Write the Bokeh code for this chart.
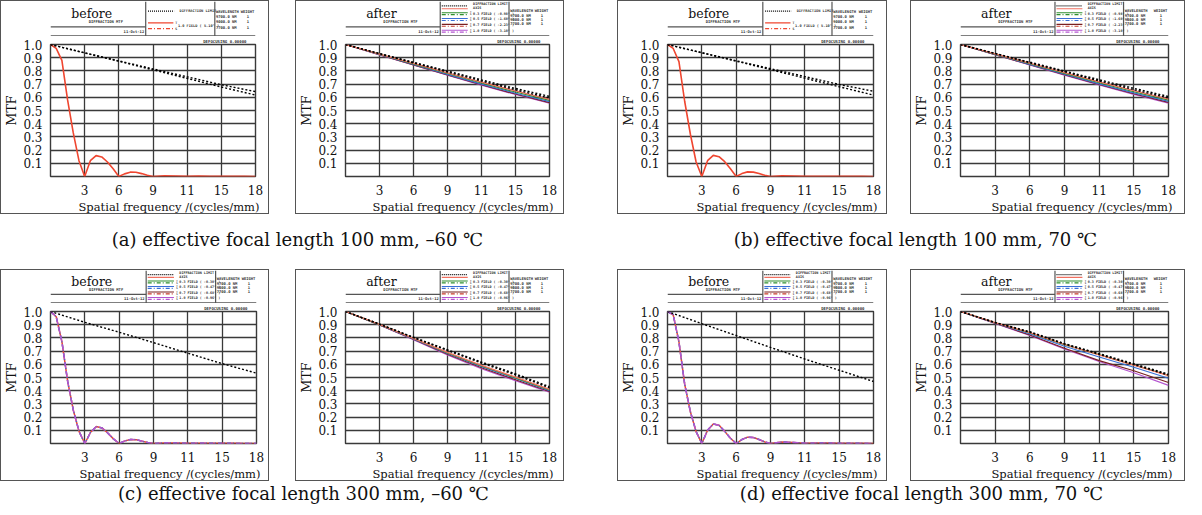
from bokeh.plotting import figure
from bokeh.models import Range1d, FixedTicker, PrintfTickFormatter, Spacer, Title
from bokeh.layouts import row, column
from bokeh.core.properties import value
from bokeh.embed import file_html
from bokeh.resources import INLINE

# ---------------- data ----------------
FREQ_FINE = [0, 0.5, 1, 1.5, 2, 2.5, 3, 3.5, 4, 4.5, 5, 5.5, 6, 6.5, 7, 7.5, 8, 8.5, 9,
             10, 11, 12, 13, 14, 15, 16, 17, 18]
FREQ = [0, 3, 6, 9, 12, 15, 18]
X_TICKS = [3, 6, 9, 12, 15, 18]
X_TICK_LABELS = ["3", "6", "9", "11", "15", "18"]
Y_TICKS = [0.1, 0.2, 0.3, 0.4, 0.5, 0.6, 0.7, 0.8, 0.9, 1.0]

# (a) EFL 100 mm, -60 C
A_BEFORE_DIFF_T = [1.0, 0.937, 0.876, 0.815, 0.755, 0.695, 0.643]
A_BEFORE_DIFF_S = [1.0, 0.936, 0.873, 0.808, 0.743, 0.678, 0.617]
A_BEFORE_MTF = [1.0, 0.97, 0.88, 0.58, 0.33, 0.12, 0.0, 0.12, 0.158, 0.148, 0.11, 0.058, 0.0,
                0.02, 0.033, 0.032, 0.022, 0.01, 0.0, 0.006, 0.004, 0.001, 0.003, 0.002,
                0.001, 0.002, 0.001, 0.0]
A_AFTER_DIFF_T = [1.0, 0.932, 0.865, 0.798, 0.732, 0.667, 0.607]
A_AFTER_DIFF_S = [1.0, 0.930, 0.861, 0.792, 0.724, 0.657, 0.594]
A_AFTER_AXIS = [1.0, 0.928, 0.857, 0.785, 0.715, 0.648, 0.585]
A_AFTER_F03 = [1.0, 0.926, 0.853, 0.780, 0.708, 0.640, 0.577]
A_AFTER_F05 = [1.0, 0.924, 0.849, 0.774, 0.700, 0.631, 0.567]
A_AFTER_F07 = [1.0, 0.922, 0.846, 0.770, 0.695, 0.625, 0.560]
A_AFTER_F10 = [1.0, 0.921, 0.845, 0.768, 0.692, 0.621, 0.555]

# (b) EFL 100 mm, 70 C
B_BEFORE_DIFF_T = [1.0, 0.938, 0.877, 0.817, 0.757, 0.697, 0.646]
B_BEFORE_DIFF_S = [1.0, 0.937, 0.874, 0.810, 0.745, 0.680, 0.617]
B_BEFORE_MTF = [1.0, 0.97, 0.87, 0.57, 0.32, 0.11, 0.0, 0.12, 0.16, 0.15, 0.112, 0.058, 0.0,
                0.022, 0.035, 0.033, 0.022, 0.009, 0.0, 0.005, 0.004, 0.001, 0.002, 0.002,
                0.001, 0.001, 0.001, 0.0]
B_AFTER_DIFF_T = [1.0, 0.933, 0.866, 0.799, 0.733, 0.668, 0.606]
B_AFTER_DIFF_S = [1.0, 0.931, 0.862, 0.793, 0.725, 0.658, 0.595]
B_AFTER_AXIS = [1.0, 0.929, 0.858, 0.787, 0.717, 0.650, 0.587]
B_AFTER_F03 = [1.0, 0.927, 0.854, 0.781, 0.710, 0.642, 0.579]
B_AFTER_F05 = [1.0, 0.925, 0.850, 0.775, 0.702, 0.633, 0.569]
B_AFTER_F07 = [1.0, 0.923, 0.847, 0.771, 0.697, 0.627, 0.562]
B_AFTER_F10 = [1.0, 0.922, 0.845, 0.768, 0.693, 0.622, 0.556]

# (c) EFL 300 mm, -60 C
C_BEFORE_DIFF = [1.0, 0.918, 0.843, 0.764, 0.684, 0.605, 0.533]
C_BEFORE_MTF = [1.0, 0.96, 0.77, 0.47, 0.25, 0.09, 0.0, 0.085, 0.128, 0.118, 0.08, 0.035, 0.0,
                0.02, 0.031, 0.029, 0.018, 0.007, 0.0, 0.004, 0.003, 0.001, 0.002, 0.001,
                0.001, 0.001, 0.0, 0.0]
C_AFTER_DIFF_T = [1.0, 0.905, 0.805, 0.710, 0.617, 0.528, 0.430]
C_AFTER_DIFF_S = [1.0, 0.904, 0.802, 0.705, 0.610, 0.520, 0.422]
C_AFTER_AXIS = [1.0, 0.902, 0.797, 0.690, 0.592, 0.503, 0.410]
C_AFTER_F03 = [1.0, 0.901, 0.795, 0.686, 0.587, 0.497, 0.405]
C_AFTER_F05 = [1.0, 0.900, 0.793, 0.682, 0.582, 0.492, 0.400]
C_AFTER_F07 = [1.0, 0.899, 0.790, 0.676, 0.574, 0.483, 0.394]
C_AFTER_F10 = [1.0, 0.898, 0.787, 0.670, 0.566, 0.476, 0.388]

# (d) EFL 300 mm, 70 C
D_BEFORE_DIFF = [1.0, 0.908, 0.818, 0.728, 0.640, 0.555, 0.470]
D_BEFORE_MTF = [1.0, 0.975, 0.77, 0.45, 0.24, 0.09, 0.0, 0.10, 0.148, 0.138, 0.092, 0.04, 0.0,
                0.03, 0.048, 0.045, 0.03, 0.012, 0.0, 0.011, 0.008, 0.002, 0.003, 0.003,
                0.001, 0.001, 0.001, 0.0]
D_AFTER_DIFF_T = [1.0, 0.917, 0.847, 0.757, 0.681, 0.604, 0.525]
D_AFTER_DIFF_S = [1.0, 0.916, 0.843, 0.753, 0.676, 0.598, 0.518]
D_AFTER_AXIS = [1.0, 0.915, 0.840, 0.750, 0.672, 0.594, 0.515]
D_AFTER_F03 = [1.0, 0.915, 0.838, 0.749, 0.673, 0.595, 0.517]
D_AFTER_F05 = [1.0, 0.913, 0.830, 0.737, 0.655, 0.578, 0.494]
D_AFTER_F07 = [1.0, 0.911, 0.822, 0.722, 0.628, 0.551, 0.462]
D_AFTER_F10 = [1.0, 0.909, 0.818, 0.716, 0.621, 0.536, 0.440]

CAPTIONS_TOP = ["(a) effective focal length 100 mm, \u201360 \u2103",
                "(b) effective focal length 100 mm, 70 \u2103"]
CAPTIONS_BOTTOM = ["(c) effective focal length 300 mm, \u201360 \u2103",
                   "(d) effective focal length 300 mm, 70 \u2103"]
SINGLE_FIELD = "1.0 FIELD ( 5.10\u00b0 )"
FIELDS_100 = ["0.3 FIELD ( -0.98\u00b0 )", "0.5 FIELD ( -1.60\u00b0 )",
              "0.7 FIELD ( -2.23\u00b0 )", "1.0 FIELD ( -3.10\u00b0 )"]
FIELDS_300 = ["0.3 FIELD ( -0.30\u00b0 )", "0.5 FIELD ( -0.47\u00b0 )",
              "0.7 FIELD ( -0.68\u00b0 )", "1.0 FIELD ( -0.96\u00b0 )"]
WAVELENGTHS = ["9700.0 NM", "9000.0 NM", "7700.0 NM"]
WEIGHTS = ["1", "1", "1"]

# ---------------- style ----------------
SERIF = "DejaVu Serif"
MONO = "DejaVu Sans Mono"
GRID = "#3a3a3a"
BORDER = "#555555"
C_RED = "#ef4630"
C_AXIS = "#f07060"
C_GREEN = "#2f8f2f"
C_BLUE = "#3a6fd6"
C_MAROON = "#7a2020"
C_RED2 = "#c83a2a"
C_PURPLE = "#b455d0"
DASHDOT = "4 2 1 2"
DOT = "2 2"
SMALLDOT = "1 1"


def tiny(p, x, y, s, align="left", size="4.2px"):
    p.text(x=[x], y=[y], text=[s], text_font=value(MONO), text_font_size=size,
           text_font_style="bold", text_color="#333333", text_align=align,
           text_baseline="middle")


def make_header(w, h, label, multi, fields):
    p = figure(width=w, height=h, x_range=Range1d(0, w), y_range=Range1d(h, 0),
               x_axis_type=None, y_axis_type=None, toolbar_location=None,
               output_backend="svg", min_border=0)
    p.outline_line_color = None
    p.background_fill_color = "white"
    s = h / 36.0
    p.segment(x0=[0, 124, 214, 0], y0=[h - 0.6, 0, 0, 26 * s],
              x1=[w, 124, 214, 124], y1=[h - 0.6, h, h, 26 * s],
              line_color=BORDER, line_width=1.2)
    p.text(x=[27], y=[12 * s], text=[label], text_font=value(SERIF), text_font_size="12.5px",
           text_color="#111111", text_baseline="middle")
    tiny(p, 72, 21 * s, "DIFFRACTION MTF", "center", "3.8px")
    tiny(p, 122, 31 * s, "11-Oct-12", "right", "3.8px")
    if not multi:
        p.line([127, 161], [10 * s, 10 * s], line_color="black", line_dash=SMALLDOT, line_width=1.2)
        p.line([127, 160], [22 * s, 22 * s], line_color=C_RED, line_width=1.2)
        p.line([127, 160], [28 * s, 28 * s], line_color=C_RED, line_dash=DASHDOT, line_width=1.2)
        tiny(p, 168, 10 * s, "DIFFRACTION LIMIT", size="3.6px")
        tiny(p, 162.5, 22 * s, "T", size="3.2px")
        tiny(p, 162.5, 28 * s, "S", size="3.2px")
        tiny(p, 166, 25 * s, fields[0], size="3.6px")
        ys = [10, 15, 20.5, 26.5]
    else:
        rows = [(4.5, "black", SMALLDOT), (7.5, C_AXIS, "solid"),
                (11.5, C_GREEN, "solid"), (13.5, C_GREEN, DASHDOT),
                (17.5, C_BLUE, "solid"), (19.5, C_BLUE, DASHDOT),
                (23.5, C_MAROON, "solid"), (25.5, C_RED2, DASHDOT),
                (29.5, C_PURPLE, "solid"), (31.5, C_PURPLE, DASHDOT)]
        for yy, col, dash in rows:
            p.line([126, 160], [yy * s, yy * s], line_color=col, line_dash=dash, line_width=1.1)
        tiny(p, 167, 2.8 * s, "DIFFRACTION LIMIT", size="3.4px")
        tiny(p, 167, 6.6 * s, "AXIS", size="3.4px")
        for i, f in enumerate(fields):
            tiny(p, 167, (12.5 + 6 * i) * s, f, size="3.4px")
            tiny(p, 163, (11.5 + 6 * i) * s, "T", size="2.4px")
            tiny(p, 163, (13.6 + 6 * i) * s, "S", size="2.4px")
        ys = [9, 14, 18.5, 23]
    tiny(p, 215.5, ys[0] * s, "WAVELENGTH", size="3.8px")
    tiny(p, w - 1.5, ys[0] * s, "WEIGHT", "right", size="3.8px")
    for i in range(3):
        tiny(p, 215.5, ys[i + 1] * s, WAVELENGTHS[i], size="3.8px")
        tiny(p, w - 10, ys[i + 1] * s, WEIGHTS[i], "center", size="3.8px")
    return p


def make_plot(w, h, bl, br, bt, bb):
    p = figure(width=w, height=h, x_range=Range1d(0, 18), y_range=Range1d(0, 1),
               toolbar_location=None, output_backend="svg",
               min_border_left=bl, min_border_right=br, min_border_top=bt, min_border_bottom=bb)
    p.title.text = "DEFOCUSING 0.00000"
    p.title.align = "right"
    p.title.text_font = MONO
    p.title.text_font_size = "4px"
    p.title.text_font_style = "bold"
    p.title.text_color = "#333333"
    p.title.offset = 9
    if "standoff" in p.title.properties():
        p.title.standoff = 1
    xa = p.xaxis[0]
    ya = p.yaxis[0]
    xa.ticker = FixedTicker(ticks=X_TICKS)
    xa.major_label_overrides = {t: l for t, l in zip(X_TICKS, X_TICK_LABELS)}
    ya.ticker = FixedTicker(ticks=Y_TICKS)
    ya.formatter = PrintfTickFormatter(format="%.1f")
    p.xgrid.ticker = FixedTicker(ticks=X_TICKS)
    p.ygrid.ticker = FixedTicker(ticks=Y_TICKS)
    for ax in (xa, ya):
        ax.axis_line_color = None
        ax.major_tick_line_color = None
        ax.minor_tick_line_color = None
        ax.major_label_text_font = SERIF
        ax.major_label_text_font_size = "12px"
        ax.major_label_text_color = "#111111"
        ax.axis_label_text_font = SERIF
        ax.axis_label_text_font_size = "12.5px"
        ax.axis_label_text_font_style = "normal"
        ax.axis_label_text_color = "#111111"
        ax.axis_label_standoff = 1
        ax.major_label_standoff = 2
    ya.axis_label = "MTF"
    xt = Title(text="Spatial frequency /(cycles/mm)", align="right")
    xt.text_font = SERIF
    xt.text_font_size = "11.5px"
    xt.text_font_style = "normal"
    xt.text_color = "#111111"
    xt.offset = -4
    if "standoff" in xt.properties():
        xt.standoff = 0
    p.add_layout(xt, "below")
    p.grid.grid_line_color = GRID
    p.grid.grid_line_width = 1.3
    p.grid.grid_line_alpha = 1.0
    p.outline_line_color = GRID
    p.outline_line_width = 1.4
    p.outline_line_alpha = 1.0
    return p


def draw_single_before(p, dt, ds, mtf):
    p.line(FREQ_FINE, mtf, line_color=C_RED, line_width=1.6)
    p.line(FREQ, dt, line_color="black", line_dash=DOT, line_width=1.4)
    p.line(FREQ, ds, line_color="black", line_dash=DOT, line_width=1.4)


def draw_multi_before(p, d, mtf):
    p.line(FREQ_FINE, mtf, line_color=C_RED, line_width=1.5)
    p.line(FREQ_FINE, mtf, line_color=C_BLUE, line_dash=DASHDOT, line_width=1.5)
    p.line(FREQ_FINE, mtf, line_color=C_PURPLE, line_dash="6 3", line_width=1.4)
    p.line(FREQ, d, line_color="black", line_dash=DOT, line_width=1.4)


def draw_after(p, dt, ds, ax, f3, f5, f7, f10):
    p.line(FREQ, f10, line_color=C_PURPLE, line_width=1.2)
    p.line(FREQ, f7, line_color=C_MAROON, line_width=1.2)
    p.line(FREQ, f5, line_color=C_BLUE, line_width=1.2)
    p.line(FREQ, f3, line_color=C_GREEN, line_width=1.2)
    p.line(FREQ, ax, line_color=C_AXIS, line_width=1.3)
    p.line(FREQ, dt, line_color="black", line_dash=DOT, line_width=1.4)
    p.line(FREQ, ds, line_color="black", line_dash=DOT, line_width=1.4)


def panel(w, hh, ph, bl, br, bt, bb, label, multi, fields):
    hdr = make_header(w, hh, label, multi, fields)
    plt = make_plot(w, ph, bl, br, bt, bb)
    box = column(hdr, plt, styles={"border": "1px solid " + BORDER})
    return box, plt


def make_caption(w, h, xs, y, texts):
    p = figure(width=w, height=h, x_range=Range1d(0, w), y_range=Range1d(h, 0),
               x_axis_type=None, y_axis_type=None, toolbar_location=None,
               output_backend="svg", min_border=0)
    p.outline_line_color = None
    p.text(x=xs, y=[y] * len(xs), text=texts, text_font=value(SERIF), text_font_size="18px",
           text_align="center", text_baseline="middle", text_color="#111111")
    return p


# row 1
b1, p1 = panel(267, 35, 177, 34, 13, 6, 31, "before", False, [SINGLE_FIELD])
draw_single_before(p1, A_BEFORE_DIFF_T, A_BEFORE_DIFF_S, A_BEFORE_MTF)
b2, p2 = panel(267, 35, 177, 33, 14, 6, 31, "after", True, FIELDS_100)
draw_after(p2, A_AFTER_DIFF_T, A_AFTER_DIFF_S, A_AFTER_AXIS, A_AFTER_F03, A_AFTER_F05,
           A_AFTER_F07, A_AFTER_F10)
b3, p3 = panel(268, 35, 177, 34, 13, 6, 31, "before", False, [SINGLE_FIELD])
draw_single_before(p3, B_BEFORE_DIFF_T, B_BEFORE_DIFF_S, B_BEFORE_MTF)
b4, p4 = panel(273, 35, 177, 36, 16, 6, 31, "after", True, FIELDS_100)
draw_after(p4, B_AFTER_DIFF_T, B_AFTER_DIFF_S, B_AFTER_AXIS, B_AFTER_F03, B_AFTER_F05,
           B_AFTER_F07, B_AFTER_F10)

# row 2
b5, p5 = panel(267, 33, 177, 34, 12, 7, 32, "before", True, FIELDS_300)
draw_multi_before(p5, C_BEFORE_DIFF, C_BEFORE_MTF)
b6, p6 = panel(267, 33, 177, 33, 14, 7, 32, "after", True, FIELDS_300)
draw_after(p6, C_AFTER_DIFF_T, C_AFTER_DIFF_S, C_AFTER_AXIS, C_AFTER_F03, C_AFTER_F05,
           C_AFTER_F07, C_AFTER_F10)
b7, p7 = panel(268, 33, 177, 34, 13, 7, 32, "before", True, FIELDS_300)
draw_multi_before(p7, D_BEFORE_DIFF, D_BEFORE_MTF)
b8, p8 = panel(273, 33, 177, 36, 16, 7, 32, "after", True, FIELDS_300)
draw_after(p8, D_AFTER_DIFF_T, D_AFTER_DIFF_S, D_AFTER_AXIS, D_AFTER_F03, D_AFTER_F05,
           D_AFTER_F07, D_AFTER_F10)

row1 = row(b1, Spacer(width=26, height=10), b2, Spacer(width=53, height=10), b3,
           Spacer(width=23, height=10), b4)
row2 = row(b5, Spacer(width=26, height=10), b6, Spacer(width=53, height=10), b7,
           Spacer(width=23, height=10), b8)
cap1 = make_caption(1185, 55, [297, 915], 25, CAPTIONS_TOP)
cap2 = make_caption(1185, 24, [303, 921], 12, CAPTIONS_BOTTOM)

layout = column(row1, cap1, row2, cap2)

open("out.html", "w").write(file_html(layout, INLINE))
